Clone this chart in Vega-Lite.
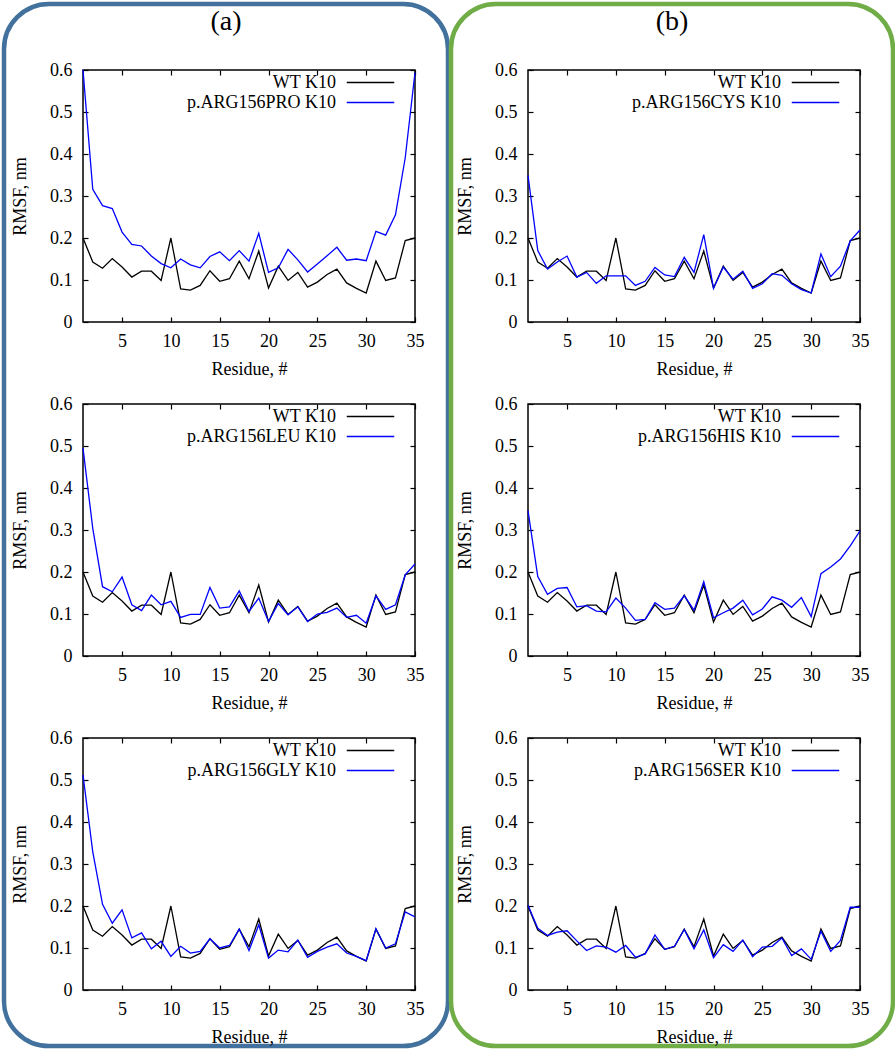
{
  "$schema": "https://vega.github.io/schema/vega-lite/v6.json",
  "background": "white",
  "padding": {"left": 1, "top": 1, "right": 0, "bottom": 0},
  "config": {
    "font": "Liberation Serif",
    "view": {"stroke": "#000000", "strokeWidth": 1.5},
    "axis": {
      "grid": false, "domain": false, "tickColor": "#000000", "tickSize": -5, "tickWidth": 1.2,
      "labelFont": "Liberation Serif", "labelFontSize": 18, "labelColor": "#000000",
      "labelFlush": false, "labelOverlap": false,
      "titleFont": "Liberation Serif", "titleFontSize": 18, "titleFontWeight": "normal", "titleColor": "#000000"
    },
    "axisX": {"labelPadding": 15, "titlePadding": 10},
    "axisY": {"labelPadding": 16, "titlePadding": 20},
    "legend": {
      "orient": "none", "legendX": 277, "legendY": 2, "title": null,
      "labelAlign": "right", "labelOffset": -45, "symbolType": "M-2.5,0H2.5", "symbolSize": 361,
      "symbolStrokeWidth": 1.5, "rowPadding": 0, "padding": 0,
      "labelFont": "Liberation Serif", "labelFontSize": 18, "labelColor": "#000000", "labelLimit": 300
    },
    "title": {"font": "Liberation Serif", "fontSize": 28, "fontWeight": "normal", "color": "#000000", "anchor": "middle", "frame": "group", "offset": -32}
  },
  "datasets": {
    "wt": [
      {"series": "WT K10", "residue": 1, "rmsf": 0.200}, {"series": "WT K10", "residue": 2, "rmsf": 0.143},
      {"series": "WT K10", "residue": 3, "rmsf": 0.128}, {"series": "WT K10", "residue": 4, "rmsf": 0.151},
      {"series": "WT K10", "residue": 5, "rmsf": 0.131}, {"series": "WT K10", "residue": 6, "rmsf": 0.107},
      {"series": "WT K10", "residue": 7, "rmsf": 0.121}, {"series": "WT K10", "residue": 8, "rmsf": 0.121},
      {"series": "WT K10", "residue": 9, "rmsf": 0.099}, {"series": "WT K10", "residue": 10, "rmsf": 0.200},
      {"series": "WT K10", "residue": 11, "rmsf": 0.079}, {"series": "WT K10", "residue": 12, "rmsf": 0.076},
      {"series": "WT K10", "residue": 13, "rmsf": 0.087}, {"series": "WT K10", "residue": 14, "rmsf": 0.122},
      {"series": "WT K10", "residue": 15, "rmsf": 0.097}, {"series": "WT K10", "residue": 16, "rmsf": 0.103},
      {"series": "WT K10", "residue": 17, "rmsf": 0.145}, {"series": "WT K10", "residue": 18, "rmsf": 0.103},
      {"series": "WT K10", "residue": 19, "rmsf": 0.169}, {"series": "WT K10", "residue": 20, "rmsf": 0.081},
      {"series": "WT K10", "residue": 21, "rmsf": 0.133}, {"series": "WT K10", "residue": 22, "rmsf": 0.099},
      {"series": "WT K10", "residue": 23, "rmsf": 0.118}, {"series": "WT K10", "residue": 24, "rmsf": 0.083},
      {"series": "WT K10", "residue": 25, "rmsf": 0.095}, {"series": "WT K10", "residue": 26, "rmsf": 0.113},
      {"series": "WT K10", "residue": 27, "rmsf": 0.126}, {"series": "WT K10", "residue": 28, "rmsf": 0.093},
      {"series": "WT K10", "residue": 29, "rmsf": 0.080}, {"series": "WT K10", "residue": 30, "rmsf": 0.069},
      {"series": "WT K10", "residue": 31, "rmsf": 0.145}, {"series": "WT K10", "residue": 32, "rmsf": 0.099},
      {"series": "WT K10", "residue": 33, "rmsf": 0.105}, {"series": "WT K10", "residue": 34, "rmsf": 0.194},
      {"series": "WT K10", "residue": 35, "rmsf": 0.200}
    ],
    "mut": [
      {"series": "p.ARG156PRO K10", "residue": 1, "rmsf": 0.600}, {"series": "p.ARG156PRO K10", "residue": 2, "rmsf": 0.316},
      {"series": "p.ARG156PRO K10", "residue": 3, "rmsf": 0.277}, {"series": "p.ARG156PRO K10", "residue": 4, "rmsf": 0.270},
      {"series": "p.ARG156PRO K10", "residue": 5, "rmsf": 0.214}, {"series": "p.ARG156PRO K10", "residue": 6, "rmsf": 0.185},
      {"series": "p.ARG156PRO K10", "residue": 7, "rmsf": 0.181}, {"series": "p.ARG156PRO K10", "residue": 8, "rmsf": 0.157},
      {"series": "p.ARG156PRO K10", "residue": 9, "rmsf": 0.139}, {"series": "p.ARG156PRO K10", "residue": 10, "rmsf": 0.129},
      {"series": "p.ARG156PRO K10", "residue": 11, "rmsf": 0.150}, {"series": "p.ARG156PRO K10", "residue": 12, "rmsf": 0.136},
      {"series": "p.ARG156PRO K10", "residue": 13, "rmsf": 0.129}, {"series": "p.ARG156PRO K10", "residue": 14, "rmsf": 0.156},
      {"series": "p.ARG156PRO K10", "residue": 15, "rmsf": 0.167}, {"series": "p.ARG156PRO K10", "residue": 16, "rmsf": 0.146},
      {"series": "p.ARG156PRO K10", "residue": 17, "rmsf": 0.170}, {"series": "p.ARG156PRO K10", "residue": 18, "rmsf": 0.145},
      {"series": "p.ARG156PRO K10", "residue": 19, "rmsf": 0.211}, {"series": "p.ARG156PRO K10", "residue": 20, "rmsf": 0.118},
      {"series": "p.ARG156PRO K10", "residue": 21, "rmsf": 0.129}, {"series": "p.ARG156PRO K10", "residue": 22, "rmsf": 0.173},
      {"series": "p.ARG156PRO K10", "residue": 23, "rmsf": 0.148}, {"series": "p.ARG156PRO K10", "residue": 24, "rmsf": 0.119},
      {"series": "p.ARG156PRO K10", "residue": 25, "rmsf": 0.138}, {"series": "p.ARG156PRO K10", "residue": 26, "rmsf": 0.158},
      {"series": "p.ARG156PRO K10", "residue": 27, "rmsf": 0.178}, {"series": "p.ARG156PRO K10", "residue": 28, "rmsf": 0.147},
      {"series": "p.ARG156PRO K10", "residue": 29, "rmsf": 0.150}, {"series": "p.ARG156PRO K10", "residue": 30, "rmsf": 0.146},
      {"series": "p.ARG156PRO K10", "residue": 31, "rmsf": 0.216}, {"series": "p.ARG156PRO K10", "residue": 32, "rmsf": 0.207},
      {"series": "p.ARG156PRO K10", "residue": 33, "rmsf": 0.255}, {"series": "p.ARG156PRO K10", "residue": 34, "rmsf": 0.391},
      {"series": "p.ARG156PRO K10", "residue": 35, "rmsf": 0.594},

      {"series": "p.ARG156CYS K10", "residue": 1, "rmsf": 0.349}, {"series": "p.ARG156CYS K10", "residue": 2, "rmsf": 0.170},
      {"series": "p.ARG156CYS K10", "residue": 3, "rmsf": 0.126}, {"series": "p.ARG156CYS K10", "residue": 4, "rmsf": 0.143},
      {"series": "p.ARG156CYS K10", "residue": 5, "rmsf": 0.157}, {"series": "p.ARG156CYS K10", "residue": 6, "rmsf": 0.107},
      {"series": "p.ARG156CYS K10", "residue": 7, "rmsf": 0.118}, {"series": "p.ARG156CYS K10", "residue": 8, "rmsf": 0.092},
      {"series": "p.ARG156CYS K10", "residue": 9, "rmsf": 0.110}, {"series": "p.ARG156CYS K10", "residue": 10, "rmsf": 0.110},
      {"series": "p.ARG156CYS K10", "residue": 11, "rmsf": 0.110}, {"series": "p.ARG156CYS K10", "residue": 12, "rmsf": 0.087},
      {"series": "p.ARG156CYS K10", "residue": 13, "rmsf": 0.097}, {"series": "p.ARG156CYS K10", "residue": 14, "rmsf": 0.130},
      {"series": "p.ARG156CYS K10", "residue": 15, "rmsf": 0.112}, {"series": "p.ARG156CYS K10", "residue": 16, "rmsf": 0.108},
      {"series": "p.ARG156CYS K10", "residue": 17, "rmsf": 0.154}, {"series": "p.ARG156CYS K10", "residue": 18, "rmsf": 0.118},
      {"series": "p.ARG156CYS K10", "residue": 19, "rmsf": 0.208}, {"series": "p.ARG156CYS K10", "residue": 20, "rmsf": 0.080},
      {"series": "p.ARG156CYS K10", "residue": 21, "rmsf": 0.131}, {"series": "p.ARG156CYS K10", "residue": 22, "rmsf": 0.102},
      {"series": "p.ARG156CYS K10", "residue": 23, "rmsf": 0.121}, {"series": "p.ARG156CYS K10", "residue": 24, "rmsf": 0.080},
      {"series": "p.ARG156CYS K10", "residue": 25, "rmsf": 0.091}, {"series": "p.ARG156CYS K10", "residue": 26, "rmsf": 0.115},
      {"series": "p.ARG156CYS K10", "residue": 27, "rmsf": 0.111}, {"series": "p.ARG156CYS K10", "residue": 28, "rmsf": 0.091},
      {"series": "p.ARG156CYS K10", "residue": 29, "rmsf": 0.077}, {"series": "p.ARG156CYS K10", "residue": 30, "rmsf": 0.069},
      {"series": "p.ARG156CYS K10", "residue": 31, "rmsf": 0.162}, {"series": "p.ARG156CYS K10", "residue": 32, "rmsf": 0.108},
      {"series": "p.ARG156CYS K10", "residue": 33, "rmsf": 0.133}, {"series": "p.ARG156CYS K10", "residue": 34, "rmsf": 0.193},
      {"series": "p.ARG156CYS K10", "residue": 35, "rmsf": 0.219},

      {"series": "p.ARG156LEU K10", "residue": 1, "rmsf": 0.495}, {"series": "p.ARG156LEU K10", "residue": 2, "rmsf": 0.304},
      {"series": "p.ARG156LEU K10", "residue": 3, "rmsf": 0.165}, {"series": "p.ARG156LEU K10", "residue": 4, "rmsf": 0.153},
      {"series": "p.ARG156LEU K10", "residue": 5, "rmsf": 0.188}, {"series": "p.ARG156LEU K10", "residue": 6, "rmsf": 0.122},
      {"series": "p.ARG156LEU K10", "residue": 7, "rmsf": 0.108}, {"series": "p.ARG156LEU K10", "residue": 8, "rmsf": 0.145},
      {"series": "p.ARG156LEU K10", "residue": 9, "rmsf": 0.122}, {"series": "p.ARG156LEU K10", "residue": 10, "rmsf": 0.130},
      {"series": "p.ARG156LEU K10", "residue": 11, "rmsf": 0.092}, {"series": "p.ARG156LEU K10", "residue": 12, "rmsf": 0.099},
      {"series": "p.ARG156LEU K10", "residue": 13, "rmsf": 0.099}, {"series": "p.ARG156LEU K10", "residue": 14, "rmsf": 0.163},
      {"series": "p.ARG156LEU K10", "residue": 15, "rmsf": 0.114}, {"series": "p.ARG156LEU K10", "residue": 16, "rmsf": 0.117},
      {"series": "p.ARG156LEU K10", "residue": 17, "rmsf": 0.155}, {"series": "p.ARG156LEU K10", "residue": 18, "rmsf": 0.106},
      {"series": "p.ARG156LEU K10", "residue": 19, "rmsf": 0.138}, {"series": "p.ARG156LEU K10", "residue": 20, "rmsf": 0.082},
      {"series": "p.ARG156LEU K10", "residue": 21, "rmsf": 0.125}, {"series": "p.ARG156LEU K10", "residue": 22, "rmsf": 0.098},
      {"series": "p.ARG156LEU K10", "residue": 23, "rmsf": 0.117}, {"series": "p.ARG156LEU K10", "residue": 24, "rmsf": 0.082},
      {"series": "p.ARG156LEU K10", "residue": 25, "rmsf": 0.100}, {"series": "p.ARG156LEU K10", "residue": 26, "rmsf": 0.104},
      {"series": "p.ARG156LEU K10", "residue": 27, "rmsf": 0.114}, {"series": "p.ARG156LEU K10", "residue": 28, "rmsf": 0.092},
      {"series": "p.ARG156LEU K10", "residue": 29, "rmsf": 0.097}, {"series": "p.ARG156LEU K10", "residue": 30, "rmsf": 0.078},
      {"series": "p.ARG156LEU K10", "residue": 31, "rmsf": 0.143}, {"series": "p.ARG156LEU K10", "residue": 32, "rmsf": 0.111},
      {"series": "p.ARG156LEU K10", "residue": 33, "rmsf": 0.122}, {"series": "p.ARG156LEU K10", "residue": 34, "rmsf": 0.193},
      {"series": "p.ARG156LEU K10", "residue": 35, "rmsf": 0.219},

      {"series": "p.ARG156HIS K10", "residue": 1, "rmsf": 0.346}, {"series": "p.ARG156HIS K10", "residue": 2, "rmsf": 0.189},
      {"series": "p.ARG156HIS K10", "residue": 3, "rmsf": 0.147}, {"series": "p.ARG156HIS K10", "residue": 4, "rmsf": 0.161},
      {"series": "p.ARG156HIS K10", "residue": 5, "rmsf": 0.163}, {"series": "p.ARG156HIS K10", "residue": 6, "rmsf": 0.117},
      {"series": "p.ARG156HIS K10", "residue": 7, "rmsf": 0.120}, {"series": "p.ARG156HIS K10", "residue": 8, "rmsf": 0.107},
      {"series": "p.ARG156HIS K10", "residue": 9, "rmsf": 0.105}, {"series": "p.ARG156HIS K10", "residue": 10, "rmsf": 0.138},
      {"series": "p.ARG156HIS K10", "residue": 11, "rmsf": 0.114}, {"series": "p.ARG156HIS K10", "residue": 12, "rmsf": 0.085},
      {"series": "p.ARG156HIS K10", "residue": 13, "rmsf": 0.087}, {"series": "p.ARG156HIS K10", "residue": 14, "rmsf": 0.127},
      {"series": "p.ARG156HIS K10", "residue": 15, "rmsf": 0.111}, {"series": "p.ARG156HIS K10", "residue": 16, "rmsf": 0.114},
      {"series": "p.ARG156HIS K10", "residue": 17, "rmsf": 0.144}, {"series": "p.ARG156HIS K10", "residue": 18, "rmsf": 0.109},
      {"series": "p.ARG156HIS K10", "residue": 19, "rmsf": 0.177}, {"series": "p.ARG156HIS K10", "residue": 20, "rmsf": 0.091},
      {"series": "p.ARG156HIS K10", "residue": 21, "rmsf": 0.103}, {"series": "p.ARG156HIS K10", "residue": 22, "rmsf": 0.114},
      {"series": "p.ARG156HIS K10", "residue": 23, "rmsf": 0.133}, {"series": "p.ARG156HIS K10", "residue": 24, "rmsf": 0.098},
      {"series": "p.ARG156HIS K10", "residue": 25, "rmsf": 0.112}, {"series": "p.ARG156HIS K10", "residue": 26, "rmsf": 0.141},
      {"series": "p.ARG156HIS K10", "residue": 27, "rmsf": 0.133}, {"series": "p.ARG156HIS K10", "residue": 28, "rmsf": 0.116},
      {"series": "p.ARG156HIS K10", "residue": 29, "rmsf": 0.139}, {"series": "p.ARG156HIS K10", "residue": 30, "rmsf": 0.094},
      {"series": "p.ARG156HIS K10", "residue": 31, "rmsf": 0.196}, {"series": "p.ARG156HIS K10", "residue": 32, "rmsf": 0.212},
      {"series": "p.ARG156HIS K10", "residue": 33, "rmsf": 0.231}, {"series": "p.ARG156HIS K10", "residue": 34, "rmsf": 0.262},
      {"series": "p.ARG156HIS K10", "residue": 35, "rmsf": 0.298},

      {"series": "p.ARG156GLY K10", "residue": 1, "rmsf": 0.512}, {"series": "p.ARG156GLY K10", "residue": 2, "rmsf": 0.329},
      {"series": "p.ARG156GLY K10", "residue": 3, "rmsf": 0.204}, {"series": "p.ARG156GLY K10", "residue": 4, "rmsf": 0.159},
      {"series": "p.ARG156GLY K10", "residue": 5, "rmsf": 0.191}, {"series": "p.ARG156GLY K10", "residue": 6, "rmsf": 0.124},
      {"series": "p.ARG156GLY K10", "residue": 7, "rmsf": 0.136}, {"series": "p.ARG156GLY K10", "residue": 8, "rmsf": 0.098},
      {"series": "p.ARG156GLY K10", "residue": 9, "rmsf": 0.116}, {"series": "p.ARG156GLY K10", "residue": 10, "rmsf": 0.080},
      {"series": "p.ARG156GLY K10", "residue": 11, "rmsf": 0.104}, {"series": "p.ARG156GLY K10", "residue": 12, "rmsf": 0.088},
      {"series": "p.ARG156GLY K10", "residue": 13, "rmsf": 0.092}, {"series": "p.ARG156GLY K10", "residue": 14, "rmsf": 0.122},
      {"series": "p.ARG156GLY K10", "residue": 15, "rmsf": 0.100}, {"series": "p.ARG156GLY K10", "residue": 16, "rmsf": 0.106},
      {"series": "p.ARG156GLY K10", "residue": 17, "rmsf": 0.145}, {"series": "p.ARG156GLY K10", "residue": 18, "rmsf": 0.094},
      {"series": "p.ARG156GLY K10", "residue": 19, "rmsf": 0.155}, {"series": "p.ARG156GLY K10", "residue": 20, "rmsf": 0.076},
      {"series": "p.ARG156GLY K10", "residue": 21, "rmsf": 0.095}, {"series": "p.ARG156GLY K10", "residue": 22, "rmsf": 0.091},
      {"series": "p.ARG156GLY K10", "residue": 23, "rmsf": 0.119}, {"series": "p.ARG156GLY K10", "residue": 24, "rmsf": 0.078},
      {"series": "p.ARG156GLY K10", "residue": 25, "rmsf": 0.092}, {"series": "p.ARG156GLY K10", "residue": 26, "rmsf": 0.102},
      {"series": "p.ARG156GLY K10", "residue": 27, "rmsf": 0.110}, {"series": "p.ARG156GLY K10", "residue": 28, "rmsf": 0.088},
      {"series": "p.ARG156GLY K10", "residue": 29, "rmsf": 0.080}, {"series": "p.ARG156GLY K10", "residue": 30, "rmsf": 0.070},
      {"series": "p.ARG156GLY K10", "residue": 31, "rmsf": 0.146}, {"series": "p.ARG156GLY K10", "residue": 32, "rmsf": 0.100},
      {"series": "p.ARG156GLY K10", "residue": 33, "rmsf": 0.110}, {"series": "p.ARG156GLY K10", "residue": 34, "rmsf": 0.186},
      {"series": "p.ARG156GLY K10", "residue": 35, "rmsf": 0.174},

      {"series": "p.ARG156SER K10", "residue": 1, "rmsf": 0.202}, {"series": "p.ARG156SER K10", "residue": 2, "rmsf": 0.147},
      {"series": "p.ARG156SER K10", "residue": 3, "rmsf": 0.130}, {"series": "p.ARG156SER K10", "residue": 4, "rmsf": 0.138},
      {"series": "p.ARG156SER K10", "residue": 5, "rmsf": 0.141}, {"series": "p.ARG156SER K10", "residue": 6, "rmsf": 0.117},
      {"series": "p.ARG156SER K10", "residue": 7, "rmsf": 0.094}, {"series": "p.ARG156SER K10", "residue": 8, "rmsf": 0.105},
      {"series": "p.ARG156SER K10", "residue": 9, "rmsf": 0.102}, {"series": "p.ARG156SER K10", "residue": 10, "rmsf": 0.090},
      {"series": "p.ARG156SER K10", "residue": 11, "rmsf": 0.106}, {"series": "p.ARG156SER K10", "residue": 12, "rmsf": 0.078},
      {"series": "p.ARG156SER K10", "residue": 13, "rmsf": 0.086}, {"series": "p.ARG156SER K10", "residue": 14, "rmsf": 0.131},
      {"series": "p.ARG156SER K10", "residue": 15, "rmsf": 0.097}, {"series": "p.ARG156SER K10", "residue": 16, "rmsf": 0.104},
      {"series": "p.ARG156SER K10", "residue": 17, "rmsf": 0.144}, {"series": "p.ARG156SER K10", "residue": 18, "rmsf": 0.098},
      {"series": "p.ARG156SER K10", "residue": 19, "rmsf": 0.143}, {"series": "p.ARG156SER K10", "residue": 20, "rmsf": 0.077},
      {"series": "p.ARG156SER K10", "residue": 21, "rmsf": 0.108}, {"series": "p.ARG156SER K10", "residue": 22, "rmsf": 0.092},
      {"series": "p.ARG156SER K10", "residue": 23, "rmsf": 0.119}, {"series": "p.ARG156SER K10", "residue": 24, "rmsf": 0.079},
      {"series": "p.ARG156SER K10", "residue": 25, "rmsf": 0.102}, {"series": "p.ARG156SER K10", "residue": 26, "rmsf": 0.104},
      {"series": "p.ARG156SER K10", "residue": 27, "rmsf": 0.124}, {"series": "p.ARG156SER K10", "residue": 28, "rmsf": 0.082},
      {"series": "p.ARG156SER K10", "residue": 29, "rmsf": 0.098}, {"series": "p.ARG156SER K10", "residue": 30, "rmsf": 0.073},
      {"series": "p.ARG156SER K10", "residue": 31, "rmsf": 0.140}, {"series": "p.ARG156SER K10", "residue": 32, "rmsf": 0.092},
      {"series": "p.ARG156SER K10", "residue": 33, "rmsf": 0.118}, {"series": "p.ARG156SER K10", "residue": 34, "rmsf": 0.197},
      {"series": "p.ARG156SER K10", "residue": 35, "rmsf": 0.197}
    ]
  },
  "vconcat": [
    {
      "hconcat": [
        {"width": 444, "height": 1042, "data": {"values": []}, "mark": "point",
         "view": {"stroke": "#41719c", "strokeWidth": 4.5, "cornerRadius": 45},
         "title": {"text": "(a)"}},
        {"width": 442, "height": 1042, "data": {"values": []}, "mark": "point",
         "view": {"stroke": "#70ad47", "strokeWidth": 4.5, "cornerRadius": 45},
         "title": {"text": "(b)"}}
      ],
      "spacing": 3, "bounds": "flush"
    },
    {
      "hconcat": [
        {"width": 1, "height": 1, "data": {"values": []}, "mark": "point", "view": {"stroke": null}},
        {
          "hconcat": [
            {
              "vconcat": [
                {"width": 332, "height": 252, "layer": [
                  {"data": {"name": "wt"}, "mark": {"type": "line", "strokeWidth": 1.3},
                   "encoding": {
                     "x": {"field": "residue", "type": "quantitative", "scale": {"domain": [1, 35], "nice": false, "zero": false}, "axis": {"title": "Residue, #", "values": [5, 10, 15, 20, 25, 30, 35]}},
                     "y": {"field": "rmsf", "type": "quantitative", "scale": {"domain": [0, 0.6], "nice": false}, "axis": {"title": "RMSF, nm", "values": [0, 0.1, 0.2, 0.3, 0.4, 0.5, 0.6], "format": "~g"}},
                     "color": {"field": "series", "type": "nominal", "scale": {"domain": ["WT K10", "p.ARG156PRO K10"], "range": ["#000000", "#0000ff"]}}}},
                  {"data": {"name": "mut"}, "transform": [{"filter": "datum.series == 'p.ARG156PRO K10'"}], "mark": {"type": "line", "strokeWidth": 1.3},
                   "encoding": {
                     "x": {"field": "residue", "type": "quantitative", "axis": {"orient": "top", "labels": false, "title": null, "values": [5, 10, 15, 20, 25, 30, 35]}},
                     "y": {"field": "rmsf", "type": "quantitative", "axis": {"orient": "right", "labels": false, "title": null, "values": [0, 0.1, 0.2, 0.3, 0.4, 0.5, 0.6]}},
                     "color": {"field": "series", "type": "nominal"}}}
                ], "resolve": {"axis": {"x": "independent", "y": "independent"}}},
                {"width": 332, "height": 252, "layer": [
                  {"data": {"name": "wt"}, "mark": {"type": "line", "strokeWidth": 1.3},
                   "encoding": {
                     "x": {"field": "residue", "type": "quantitative", "scale": {"domain": [1, 35], "nice": false, "zero": false}, "axis": {"title": "Residue, #", "values": [5, 10, 15, 20, 25, 30, 35]}},
                     "y": {"field": "rmsf", "type": "quantitative", "scale": {"domain": [0, 0.6], "nice": false}, "axis": {"title": "RMSF, nm", "values": [0, 0.1, 0.2, 0.3, 0.4, 0.5, 0.6], "format": "~g"}},
                     "color": {"field": "series", "type": "nominal", "scale": {"domain": ["WT K10", "p.ARG156LEU K10"], "range": ["#000000", "#0000ff"]}}}},
                  {"data": {"name": "mut"}, "transform": [{"filter": "datum.series == 'p.ARG156LEU K10'"}], "mark": {"type": "line", "strokeWidth": 1.3},
                   "encoding": {
                     "x": {"field": "residue", "type": "quantitative", "axis": {"orient": "top", "labels": false, "title": null, "values": [5, 10, 15, 20, 25, 30, 35]}},
                     "y": {"field": "rmsf", "type": "quantitative", "axis": {"orient": "right", "labels": false, "title": null, "values": [0, 0.1, 0.2, 0.3, 0.4, 0.5, 0.6]}},
                     "color": {"field": "series", "type": "nominal"}}}
                ], "resolve": {"axis": {"x": "independent", "y": "independent"}}},
                {"width": 332, "height": 252, "layer": [
                  {"data": {"name": "wt"}, "mark": {"type": "line", "strokeWidth": 1.3},
                   "encoding": {
                     "x": {"field": "residue", "type": "quantitative", "scale": {"domain": [1, 35], "nice": false, "zero": false}, "axis": {"title": "Residue, #", "values": [5, 10, 15, 20, 25, 30, 35]}},
                     "y": {"field": "rmsf", "type": "quantitative", "scale": {"domain": [0, 0.6], "nice": false}, "axis": {"title": "RMSF, nm", "values": [0, 0.1, 0.2, 0.3, 0.4, 0.5, 0.6], "format": "~g"}},
                     "color": {"field": "series", "type": "nominal", "scale": {"domain": ["WT K10", "p.ARG156GLY K10"], "range": ["#000000", "#0000ff"]}}}},
                  {"data": {"name": "mut"}, "transform": [{"filter": "datum.series == 'p.ARG156GLY K10'"}], "mark": {"type": "line", "strokeWidth": 1.3},
                   "encoding": {
                     "x": {"field": "residue", "type": "quantitative", "axis": {"orient": "top", "labels": false, "title": null, "values": [5, 10, 15, 20, 25, 30, 35]}},
                     "y": {"field": "rmsf", "type": "quantitative", "axis": {"orient": "right", "labels": false, "title": null, "values": [0, 0.1, 0.2, 0.3, 0.4, 0.5, 0.6]}},
                     "color": {"field": "series", "type": "nominal"}}}
                ], "resolve": {"axis": {"x": "independent", "y": "independent"}}}
              ],
              "spacing": 82, "bounds": "flush",
              "resolve": {"scale": {"color": "independent"}, "legend": {"color": "independent"}}
            },
            {
              "vconcat": [
                {"width": 332, "height": 252, "layer": [
                  {"data": {"name": "wt"}, "mark": {"type": "line", "strokeWidth": 1.3},
                   "encoding": {
                     "x": {"field": "residue", "type": "quantitative", "scale": {"domain": [1, 35], "nice": false, "zero": false}, "axis": {"title": "Residue, #", "values": [5, 10, 15, 20, 25, 30, 35]}},
                     "y": {"field": "rmsf", "type": "quantitative", "scale": {"domain": [0, 0.6], "nice": false}, "axis": {"title": "RMSF, nm", "values": [0, 0.1, 0.2, 0.3, 0.4, 0.5, 0.6], "format": "~g"}},
                     "color": {"field": "series", "type": "nominal", "scale": {"domain": ["WT K10", "p.ARG156CYS K10"], "range": ["#000000", "#0000ff"]}}}},
                  {"data": {"name": "mut"}, "transform": [{"filter": "datum.series == 'p.ARG156CYS K10'"}], "mark": {"type": "line", "strokeWidth": 1.3},
                   "encoding": {
                     "x": {"field": "residue", "type": "quantitative", "axis": {"orient": "top", "labels": false, "title": null, "values": [5, 10, 15, 20, 25, 30, 35]}},
                     "y": {"field": "rmsf", "type": "quantitative", "axis": {"orient": "right", "labels": false, "title": null, "values": [0, 0.1, 0.2, 0.3, 0.4, 0.5, 0.6]}},
                     "color": {"field": "series", "type": "nominal"}}}
                ], "resolve": {"axis": {"x": "independent", "y": "independent"}}},
                {"width": 332, "height": 252, "layer": [
                  {"data": {"name": "wt"}, "mark": {"type": "line", "strokeWidth": 1.3},
                   "encoding": {
                     "x": {"field": "residue", "type": "quantitative", "scale": {"domain": [1, 35], "nice": false, "zero": false}, "axis": {"title": "Residue, #", "values": [5, 10, 15, 20, 25, 30, 35]}},
                     "y": {"field": "rmsf", "type": "quantitative", "scale": {"domain": [0, 0.6], "nice": false}, "axis": {"title": "RMSF, nm", "values": [0, 0.1, 0.2, 0.3, 0.4, 0.5, 0.6], "format": "~g"}},
                     "color": {"field": "series", "type": "nominal", "scale": {"domain": ["WT K10", "p.ARG156HIS K10"], "range": ["#000000", "#0000ff"]}}}},
                  {"data": {"name": "mut"}, "transform": [{"filter": "datum.series == 'p.ARG156HIS K10'"}], "mark": {"type": "line", "strokeWidth": 1.3},
                   "encoding": {
                     "x": {"field": "residue", "type": "quantitative", "axis": {"orient": "top", "labels": false, "title": null, "values": [5, 10, 15, 20, 25, 30, 35]}},
                     "y": {"field": "rmsf", "type": "quantitative", "axis": {"orient": "right", "labels": false, "title": null, "values": [0, 0.1, 0.2, 0.3, 0.4, 0.5, 0.6]}},
                     "color": {"field": "series", "type": "nominal"}}}
                ], "resolve": {"axis": {"x": "independent", "y": "independent"}}},
                {"width": 332, "height": 252, "layer": [
                  {"data": {"name": "wt"}, "mark": {"type": "line", "strokeWidth": 1.3},
                   "encoding": {
                     "x": {"field": "residue", "type": "quantitative", "scale": {"domain": [1, 35], "nice": false, "zero": false}, "axis": {"title": "Residue, #", "values": [5, 10, 15, 20, 25, 30, 35]}},
                     "y": {"field": "rmsf", "type": "quantitative", "scale": {"domain": [0, 0.6], "nice": false}, "axis": {"title": "RMSF, nm", "values": [0, 0.1, 0.2, 0.3, 0.4, 0.5, 0.6], "format": "~g"}},
                     "color": {"field": "series", "type": "nominal", "scale": {"domain": ["WT K10", "p.ARG156SER K10"], "range": ["#000000", "#0000ff"]}}}},
                  {"data": {"name": "mut"}, "transform": [{"filter": "datum.series == 'p.ARG156SER K10'"}], "mark": {"type": "line", "strokeWidth": 1.3},
                   "encoding": {
                     "x": {"field": "residue", "type": "quantitative", "axis": {"orient": "top", "labels": false, "title": null, "values": [5, 10, 15, 20, 25, 30, 35]}},
                     "y": {"field": "rmsf", "type": "quantitative", "axis": {"orient": "right", "labels": false, "title": null, "values": [0, 0.1, 0.2, 0.3, 0.4, 0.5, 0.6]}},
                     "color": {"field": "series", "type": "nominal"}}}
                ], "resolve": {"axis": {"x": "independent", "y": "independent"}}}
              ],
              "spacing": 82, "bounds": "flush",
              "resolve": {"scale": {"color": "independent"}, "legend": {"color": "independent"}}
            }
          ],
          "spacing": 445, "bounds": "flush",
          "resolve": {"scale": {"color": "independent"}, "legend": {"color": "independent"}}
        }
      ],
      "spacing": 78, "bounds": "flush",
      "resolve": {"scale": {"color": "independent"}, "legend": {"color": "independent"}}
    }
  ],
  "spacing": 66, "bounds": "flush",
  "resolve": {"scale": {"color": "independent"}, "legend": {"color": "independent"}}
}
